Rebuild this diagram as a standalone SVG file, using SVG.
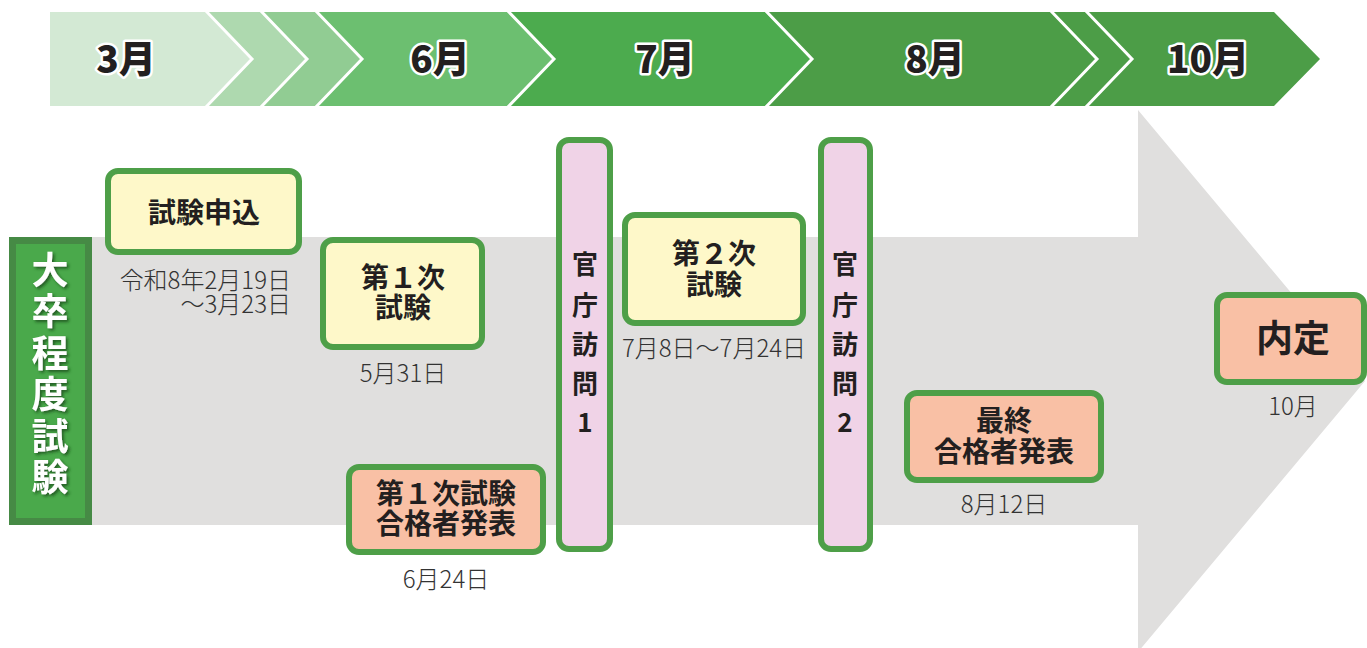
<svg xmlns="http://www.w3.org/2000/svg" width="1367" height="648" viewBox="0 0 1367 648">
<defs>
<style>
.sep{fill:none;stroke:#fff;stroke-width:3}
.mon{font-family:"Noto Sans CJK JP","Noto Sans",sans-serif;font-weight:900;font-size:37px;fill:#231f20;stroke:#fff;stroke-width:5;paint-order:stroke;stroke-linejoin:round;text-anchor:middle}
.box{stroke:#4e9f48;stroke-width:6}
.y{fill:#fef8c9}
.o{fill:#f9c0a5}
.p{fill:#f0d3e7}
.lbl{font-family:"Noto Sans CJK JP","Noto Sans",sans-serif;font-weight:700;font-size:28px;fill:#231f20;text-anchor:middle}
.vl{font-family:"Noto Sans CJK JP","Noto Sans",sans-serif;font-weight:700;font-size:26px;fill:#231f20;text-anchor:middle}
.date{font-family:"Noto Sans CJK JP","Noto Sans",sans-serif;font-weight:300;font-size:24px;fill:#333;text-anchor:middle}
.side{font-family:"Noto Sans CJK JP","Noto Sans",sans-serif;font-weight:700;font-size:37px;fill:#fff;writing-mode:vertical-rl;text-orientation:upright;letter-spacing:4.5px}
</style>
<filter id="sh" x="-30%" y="-10%" width="160%" height="120%">
<feDropShadow dx="2" dy="2" stdDeviation="1.5" flood-color="#1e4a1e" flood-opacity="0.8"/>
</filter>
</defs>
<g id="banner">
<polygon points="50,12 205,12 252,59 205,106 50,106" fill="#d3e9d4"/>
<polygon points="205,12 260,12 307,59 260,106 205,106 252,59" fill="#aed9af"/>
<polygon points="260,12 315,12 362,59 315,106 260,106 307,59" fill="#91cc93"/>
<polygon points="315,12 507,12 554,59 507,106 315,106 362,59" fill="#6cbf70"/>
<polygon points="507,12 765,12 812,59 765,106 507,106 554,59" fill="#4cab4e"/>
<polygon points="765,12 1274,12 1320,59 1274,106 765,106 812,59" fill="#4c9d47"/>
<polyline class="sep" points="205,10 252,59 205,108"/>
<polyline class="sep" points="260,10 307,59 260,108"/>
<polyline class="sep" points="315,10 362,59 315,108"/>
<polyline class="sep" points="507,10 554,59 507,108"/>
<polyline class="sep" points="765,10 812,59 765,108"/>
<polyline class="sep" points="1050,10 1097,59 1050,108"/>
<polyline class="sep" points="1085,10 1132,59 1085,108"/>
<text class="mon" x="126" y="73">3月</text>
<text class="mon" x="440" y="73">6月</text>
<text class="mon" x="665" y="73">7月</text>
<text class="mon" x="935" y="73">8月</text>
<text class="mon" x="1208" y="73">10月</text>
</g>
<g id="flow">
<polygon points="92,237 1138,237 1138,110 1365,381 1138,652 1138,525 92,525" fill="#e0dfde"/>
</g>
<g id="side-label">
<rect x="12.5" y="240.5" width="76" height="281" fill="#4aa94b" stroke="#468a45" stroke-width="7"/>
<text class="side" x="50" y="251" filter="url(#sh)">大卒程度試験</text>
</g>
<g id="connectors"></g>
<g id="n-apply">
<rect class="box y" x="108" y="171" width="191" height="81" rx="10"/>
<text class="lbl" x="204" y="223">試験申込</text>
<text class="date" style="text-anchor:end"><tspan x="291" y="289">令和8年2月19日</tspan><tspan x="291" y="313">～3月23日</tspan></text>
</g>
<g id="n-exam1">
<rect class="box y" x="323" y="240" width="159" height="107" rx="10"/>
<text class="lbl"><tspan x="403" y="288">第１次</tspan><tspan x="403" y="318">試験</tspan></text>
<text class="date" x="403" y="382">5月31日</text>
</g>
<g id="n-pass1">
<rect class="box o" x="349" y="467" width="194" height="85" rx="10"/>
<text class="lbl"><tspan x="446" y="504">第１次試験</tspan><tspan x="446" y="534">合格者発表</tspan></text>
<text class="date" x="446" y="588">6月24日</text>
</g>
<g id="n-visit1">
<rect class="box p" x="559" y="140" width="51" height="409" rx="10"/>
<text class="vl" x="585" y="274">官</text>
<text class="vl" x="585" y="315">庁</text>
<text class="vl" x="585" y="354">訪</text>
<text class="vl" x="585" y="393">問</text>
<text class="vl" x="585" y="432">1</text>
</g>
<g id="n-exam2">
<rect class="box y" x="625" y="215" width="178" height="108" rx="10"/>
<text class="lbl"><tspan x="714" y="264">第２次</tspan><tspan x="714" y="295">試験</tspan></text>
<text class="date" x="714" y="357">7月8日～7月24日</text>
</g>
<g id="n-visit2">
<rect class="box p" x="821" y="140" width="49" height="409" rx="10"/>
<text class="vl" x="845" y="274">官</text>
<text class="vl" x="845" y="315">庁</text>
<text class="vl" x="845" y="354">訪</text>
<text class="vl" x="845" y="393">問</text>
<text class="vl" x="845" y="432">2</text>
</g>
<g id="n-final">
<rect class="box o" x="907" y="393" width="194" height="87" rx="10"/>
<text class="lbl"><tspan x="1004" y="431">最終</tspan><tspan x="1004" y="462">合格者発表</tspan></text>
<text class="date" x="1004" y="513">8月12日</text>
</g>
<g id="n-offer">
<rect class="box o" x="1217" y="295" width="147" height="87" rx="10"/>
<text class="lbl" x="1293" y="352" style="font-size:37px">内定</text>
<text class="date" x="1293" y="415">10月</text>
</g>
</svg>
